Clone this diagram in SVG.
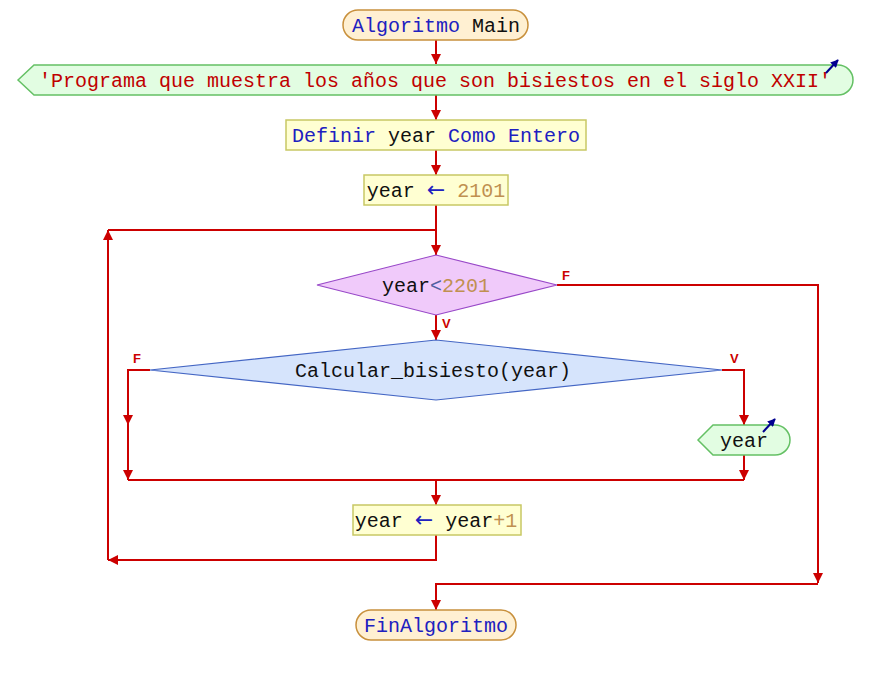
<svg xmlns="http://www.w3.org/2000/svg" width="872" height="675" viewBox="0 0 872 675">
<defs>
<marker id="ah" viewBox="0 0 10 10" refX="10" refY="5" markerWidth="10" markerHeight="10" markerUnits="userSpaceOnUse" orient="auto">
<path d="M0,0 L10,5 L0,10 Z" fill="#cc0000"/>
</marker>
<marker id="bh" viewBox="0 0 10 10" refX="9" refY="5" markerWidth="8" markerHeight="8" markerUnits="userSpaceOnUse" orient="auto">
<path d="M0,0 L10,5 L0,10 Z" fill="#000090"/>
</marker>
<style>
text{font-family:"Liberation Mono","DejaVu Sans Mono",monospace;font-size:20px;}
.t{text-anchor:middle;}
.kw{fill:#2020c0;}
.id{fill:#101010;}
.num{fill:#c09050;}
.str{fill:#c00000;}
.op{fill:#5060a0;}
.arr{fill:#2020c0;font-family:"DejaVu Sans",sans-serif;font-size:22px;}
.lbl{font-family:"Liberation Sans",Arial,sans-serif;font-size:13px;font-weight:bold;fill:#cc0000;}
.term{fill:#fff0d2;stroke:#c8903c;stroke-width:1.5;}
.proc{fill:#ffffd2;stroke:#c8c864;stroke-width:1.5;}
.io{fill:#e2fde2;stroke:#64c064;stroke-width:1.5;}
.c{fill:none;stroke:#cc0000;stroke-width:2;}
.ba{stroke:#000090;stroke-width:2;fill:none;}
</style>
</defs>

<g id="connectors">
<path class="c" d="M436,40 V64" marker-end="url(#ah)"/>
<path class="c" d="M436,95 V120" marker-end="url(#ah)"/>
<path class="c" d="M436,150 V175" marker-end="url(#ah)"/>
<path class="c" d="M436,205 V255" marker-end="url(#ah)"/>
<path class="c" d="M436,315 V340" marker-end="url(#ah)"/>
<path class="c" d="M557,285 H818 V583" marker-end="url(#ah)"/>
<path class="c" d="M818,584 H436 V610" marker-end="url(#ah)"/>
<path class="c" d="M150,370 H128 V425" marker-end="url(#ah)"/>
<path class="c" d="M128,424 V480" marker-end="url(#ah)"/>
<path class="c" d="M722,370 H744 V425" marker-end="url(#ah)"/>
<path class="c" d="M744,455 V480" marker-end="url(#ah)"/>
<path class="c" d="M128,480 H744"/>
<path class="c" d="M436,480 V505" marker-end="url(#ah)"/>
<path class="c" d="M436,535 V560 H108" marker-end="url(#ah)"/>
<path class="c" d="M108,560 V230" marker-end="url(#ah)"/>
<path class="c" d="M108,230 H436"/>
<text class="lbl" x="562" y="280">F</text>
<text class="lbl" x="442" y="328">V</text>
<text class="lbl" x="133" y="363">F</text>
<text class="lbl" x="730" y="363">V</text>
</g>

<g id="start">
<rect class="term" x="343" y="10" width="185" height="30" rx="15" ry="15"/>
<text class="t" x="436" y="32"><tspan class="kw">Algoritmo</tspan><tspan class="id"> Main</tspan></text>
</g>

<g id="output1">
<path class="io" d="M18,80 L34,65 H838 A15,15 0 0 1 838,95 H34 Z"/>
<text class="t str" x="435" y="87">'Programa que muestra los años que son bisiestos en el siglo XXII'</text>
<path class="ba" d="M826,73 L838,60" marker-end="url(#bh)"/>
</g>

<g id="define">
<rect class="proc" x="286" y="120" width="300" height="30"/>
<text class="t" x="436" y="142"><tspan class="kw">Definir</tspan><tspan class="id"> year </tspan><tspan class="kw">Como Entero</tspan></text>
</g>

<g id="assign1">
<rect class="proc" x="364" y="175" width="144" height="30"/>
<text class="t" x="436" y="197"><tspan class="id">year </tspan><tspan class="arr">←</tspan><tspan class="num"> 2101</tspan></text>
</g>

<g id="while">
<path d="M436,255 L557,285 L436,315 L317,285 Z" fill="#f0cafa" stroke="#9848c8" stroke-width="1.2"/>
<text class="t" x="436" y="292"><tspan class="id">year</tspan><tspan class="op">&lt;</tspan><tspan class="num">2201</tspan></text>
</g>

<g id="if">
<path d="M436,340 L722,370 L436,400 L150,370 Z" fill="#d6e4fc" stroke="#4466c4" stroke-width="1.2"/>
<text class="t id" x="433" y="377">Calcular_bisiesto(year)</text>
</g>

<g id="output2">
<path class="io" d="M698,440 L713,425 H775 A15,15 0 0 1 775,455 H713 Z"/>
<text class="t id" x="744" y="447">year</text>
<path class="ba" d="M763,432 L775,419" marker-end="url(#bh)"/>
</g>

<g id="assign2">
<rect class="proc" x="353" y="505" width="168" height="30"/>
<text class="t" x="436" y="527"><tspan class="id">year </tspan><tspan class="arr">←</tspan><tspan class="id"> year</tspan><tspan class="num">+1</tspan></text>
</g>

<g id="end">
<rect class="term" x="356" y="610" width="160" height="30" rx="15" ry="15"/>
<text class="t kw" x="436" y="632">FinAlgoritmo</text>
</g>
</svg>
